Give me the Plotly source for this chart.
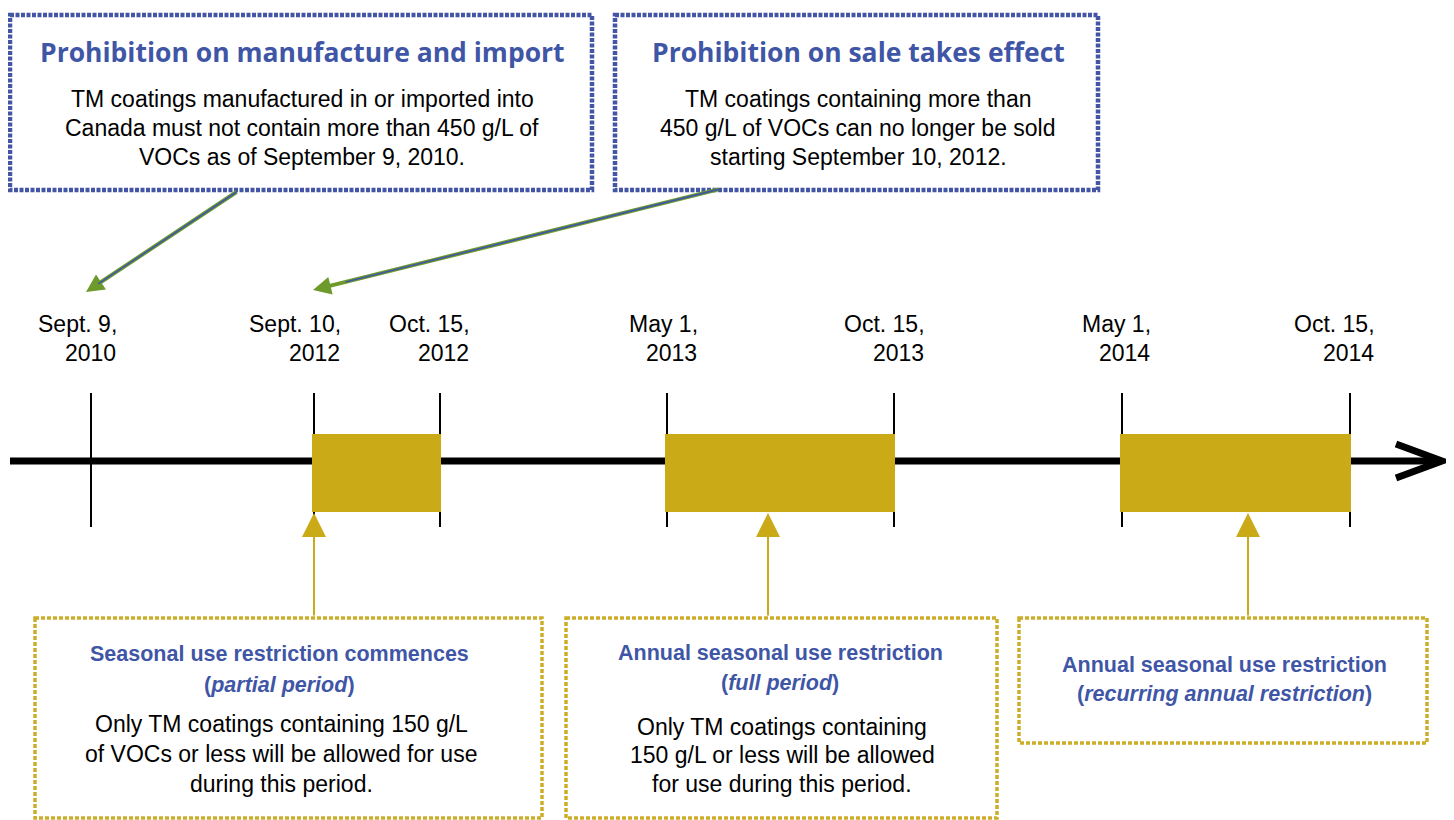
import plotly.graph_objects as go

# ---------------- data ----------------
event_dates = ["Sept. 9,", "Sept. 10,", "Oct. 15,", "May 1,", "Oct. 15,", "May 1,", "Oct. 15,"]
event_years = ["2010", "2012", "2012", "2013", "2013", "2014", "2014"]
period_start_idx = [1, 3, 5]
period_end_idx = [2, 4, 6]

top_titles = ["Prohibition on manufacture and import", "Prohibition on sale takes effect"]
top_bodies = [
    ["TM coatings manufactured in or imported into",
     "Canada must not contain more than 450 g/L of",
     "VOCs as of September 9, 2010."],
    ["TM coatings containing more than",
     "450 g/L of VOCs can no longer be sold",
     "starting September 10, 2012."],
]
top_target_idx = [0, 1]

bottom_titles = [
    ["Seasonal use restriction commences", "(<i>partial period</i>)"],
    ["Annual seasonal use restriction", "(<i>full period</i>)"],
    ["Annual seasonal use restriction", "(<i>recurring annual restriction</i>)"],
]
bottom_bodies = [
    ["Only TM coatings containing 150 g/L",
     "of VOCs or less will be allowed for use",
     "during this period."],
    ["Only TM coatings containing",
     "150 g/L or less will be allowed",
     "for use during this period."],
    [],
]

# ---------------- layout (schematic positions, styles) ----------------
W, H = 1454, 820
OFF = 8  # page body margin
event_x = [91, 314, 440, 667, 894, 1122, 1350]
date_dx = [28, 29, 32, 33, 33, 31, 27]
AXIS_Y = 461
TICK_Y0, TICK_Y1 = 393, 527
RECT_Y0, RECT_Y1 = 434, 512

BLUE = "#3F56A6"
BLUE_DOT = "#4455A6"
GREEN = "#6E9A2C"
GOLD = "#CBAA17"
GOLD_DOT = "#CDAE2A"

BODY_FONT = "Liberation Sans"
TITLE_FONT = "Open Sans"

top_boxes = [(10, 15, 592, 190), (615, 15, 1098, 190)]
top_text_x = [302, 858]
top_arrow_tail = [(238, 191), (720, 189)]
top_arrow_head = [(86, 292), (313, 290)]

bottom_boxes = [(35, 618, 542, 818), (566, 618, 997, 818), (1019, 618, 1427, 743)]
bottom_text_x = [279, 780, 1224]
bottom_title_y = [[654, 685], [653, 683], [665, 694]]
bottom_body_y = [[724, 754, 784], [727, 755, 784], []]
bottom_arrow_x = [314, 768, 1248]

fig = go.Figure()
fig.add_trace(go.Scatter(x=[0, W], y=[0, H], mode="markers",
                         marker=dict(opacity=0), hoverinfo="skip", showlegend=False))

shapes = []
annotations = []

# timeline axis
shapes.append(dict(type="line", x0=10, x1=1438, y0=AXIS_Y, y1=AXIS_Y,
                   line=dict(color="black", width=7), xref="x", yref="y"))
shapes.append(dict(type="path", path=f"M 1396 444 L 1442 {AXIS_Y} L 1396 478",
                   line=dict(color="black", width=7), xref="x", yref="y"))

# event tick lines
for x in event_x:
    shapes.append(dict(type="line", x0=x, x1=x, y0=TICK_Y0, y1=TICK_Y1,
                       line=dict(color="black", width=2), xref="x", yref="y"))

# restriction periods
for s, e in zip(period_start_idx, period_end_idx):
    shapes.append(dict(type="rect", x0=event_x[s] - 2, x1=event_x[e] + 1,
                       y0=RECT_Y0, y1=RECT_Y1, fillcolor=GOLD,
                       line=dict(width=0), xref="x", yref="y"))

# date labels
for i, x in enumerate(event_x):
    annotations.append(dict(x=x + date_dx[i], y=324, text=event_dates[i],
                            xanchor="right", yanchor="middle", showarrow=False,
                            font=dict(family=BODY_FONT, size=23, color="black")))
    annotations.append(dict(x=x + date_dx[i] - 1, y=353, text=event_years[i],
                            xanchor="right", yanchor="middle", showarrow=False,
                            font=dict(family=BODY_FONT, size=23, color="black")))

# top boxes
for k, (x0, y0, x1, y1) in enumerate(top_boxes):
    shapes.append(dict(type="rect", x0=x0, x1=x1, y0=y0, y1=y1,
                       line=dict(color=BLUE_DOT, width=4.5, dash="4px,1.5px"),
                       fillcolor="rgba(0,0,0,0)", xref="x", yref="y"))
    annotations.append(dict(x=top_text_x[k], y=52, text=f"<b>{top_titles[k]}</b>",
                            showarrow=False, xanchor="center", yanchor="middle",
                            font=dict(family=TITLE_FONT, size=26.5, color=BLUE)))
    for j, line in enumerate(top_bodies[k]):
        annotations.append(dict(x=top_text_x[k], y=99 + 29 * j, text=line,
                                showarrow=False, xanchor="center", yanchor="middle",
                                font=dict(family=BODY_FONT, size=23, color="black")))
    tx, ty = top_arrow_tail[k]
    hx, hy = top_arrow_head[k]
    annotations.append(dict(x=hx, y=hy, ax=tx, ay=ty, axref="x", ayref="y",
                            xref="x", yref="y", text="", showarrow=True,
                            arrowhead=2, arrowsize=0.9, arrowwidth=4,
                            arrowcolor=GREEN))
    annotations.append(dict(x=hx + (tx - hx) * 0.08, y=hy + (ty - hy) * 0.08,
                            ax=tx, ay=ty, axref="x", ayref="y",
                            xref="x", yref="y", text="", showarrow=True,
                            arrowhead=0, arrowwidth=1.6, arrowcolor=BLUE))

# bottom boxes
for k, (x0, y0, x1, y1) in enumerate(bottom_boxes):
    shapes.append(dict(type="rect", x0=x0, x1=x1, y0=y0, y1=y1,
                       line=dict(color=GOLD_DOT, width=3.5, dash="4px,2px"),
                       fillcolor="rgba(0,0,0,0)", xref="x", yref="y"))
    for j, line in enumerate(bottom_titles[k]):
        annotations.append(dict(x=bottom_text_x[k], y=bottom_title_y[k][j],
                                text=f"<b>{line}</b>", showarrow=False,
                                xanchor="center", yanchor="middle",
                                font=dict(family=BODY_FONT, size=21.5, color=BLUE)))
    for j, line in enumerate(bottom_bodies[k]):
        annotations.append(dict(x=bottom_text_x[k] + 2, y=bottom_body_y[k][j],
                                text=line, showarrow=False,
                                xanchor="center", yanchor="middle",
                                font=dict(family=BODY_FONT, size=23, color="black")))
    ax_ = bottom_arrow_x[k]
    annotations.append(dict(x=ax_, y=RECT_Y1 + 1, ax=ax_, ay=y0 - 1, axref="x", ayref="y",
                            xref="x", yref="y", text="", showarrow=True,
                            arrowhead=2, arrowsize=2.4, arrowwidth=2, arrowcolor=GOLD))

fig.update_layout(
    width=W, height=H, margin=dict(l=0, r=0, t=0, b=0),
    plot_bgcolor="white", paper_bgcolor="white",
    xaxis=dict(range=[OFF, W + OFF], visible=False, fixedrange=True),
    yaxis=dict(range=[H + OFF, OFF], visible=False, fixedrange=True),
    shapes=shapes, annotations=annotations, showlegend=False,
)

fig.write_html("out.html")
